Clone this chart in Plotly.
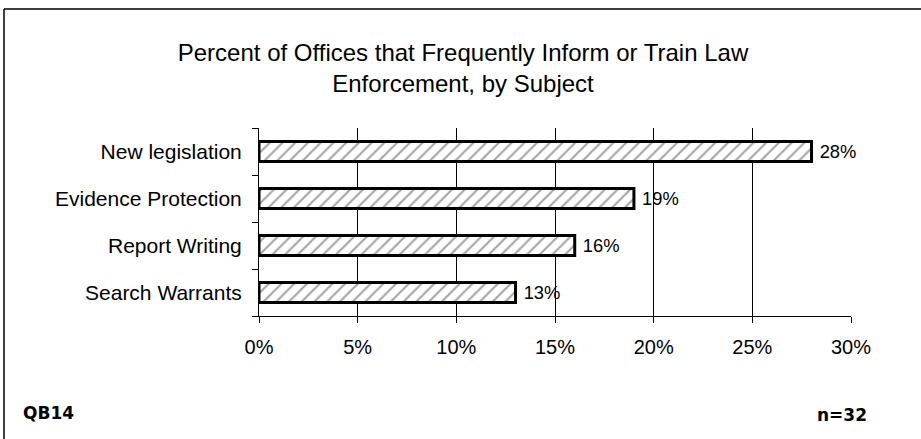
import plotly.graph_objects as go

categories = ["New legislation", "Evidence Protection", "Report Writing", "Search Warrants"]
values = [28, 19, 16, 13]
x_ticks = [0, 5, 10, 15, 20, 25, 30]
x_tick_labels = ["0%", "5%", "10%", "15%", "20%", "25%", "30%"]

W, H = 921, 439
L, R, T, B = 259, 70, 128, 123
pw = W - L - R
ph = H - T - B

def px_x(x):
    return (x - L) / pw

def px_y(y):
    return (H - B - y) / ph

SANS = "Liberation Sans, Arial, sans-serif"

fig = go.Figure()
fig.add_trace(go.Bar(
    x=values,
    y=categories,
    orientation="h",
    width=0.43,
    marker=dict(
        color="white",
        line=dict(color="black", width=3),
        pattern=dict(shape="/", fgcolor="#444444", bgcolor="white", size=9, solidity=0.22),
    ),
    texttemplate=" %{x}%",
    textposition="outside",
    textfont=dict(family=SANS, size=20, color="black"),
    cliponaxis=False,
    showlegend=False,
))

fig.update_layout(
    width=W, height=H,
    margin=dict(l=L, r=R, t=T, b=B, pad=0),
    paper_bgcolor="white",
    plot_bgcolor="white",
    font=dict(family=SANS, size=20, color="black"),
    title=dict(
        text="Percent of Offices that Frequently Inform or Train Law<br>Enforcement, by Subject",
        xref="container", x=463 / W, xanchor="center",
        yref="container", y=1 - 61 / H, yanchor="top",
        font=dict(family=SANS, size=24, color="black"),
    ),
    xaxis=dict(
        range=[0, 30],
        tickvals=x_ticks,
        ticktext=x_tick_labels,
        showgrid=True, gridcolor="black", gridwidth=1,
        showline=True, linecolor="black", linewidth=1,
        ticks="outside", ticklen=6, tickcolor="black",
        zeroline=False,
        fixedrange=True,
        ticklabelstandoff=7,
        tickfont=dict(family=SANS, size=20, color="black"),
    ),
    yaxis=dict(
        categoryorder="array",
        categoryarray=categories[::-1],
        showline=True, linecolor="black", linewidth=1,
        ticks="outside", ticklen=6, tickcolor="black",
        tickson="boundaries",
        showgrid=False,
        ticklabelstandoff=12,
        fixedrange=True,
        tickfont=dict(family=SANS, size=21, color="black"),
    ),
)

# outer frame (top and left edges)
fig.add_shape(type="line", xref="paper", yref="paper",
              x0=px_x(4), x1=px_x(W + 5), y0=px_y(9), y1=px_y(9),
              line=dict(color="black", width=1.5))
fig.add_shape(type="line", xref="paper", yref="paper",
              x0=px_x(4), x1=px_x(4), y0=px_y(9), y1=px_y(H + 5),
              line=dict(color="black", width=1.5))

fig.add_annotation(text="<b>QB14</b>", xref="paper", yref="paper",
                   x=px_x(21), y=px_y(413), xanchor="left", yanchor="middle",
                   showarrow=False,
                   font=dict(family="DejaVu Sans, sans-serif", size=17, color="black"))
fig.add_annotation(text="<b>n=32</b>", xref="paper", yref="paper",
                   x=px_x(869), y=px_y(415), xanchor="right", yanchor="middle",
                   showarrow=False,
                   font=dict(family="DejaVu Sans, sans-serif", size=17, color="black"))

fig.write_html("out.html", config={"displayModeBar": False},
               post_script="document.body.style.margin='0';")
